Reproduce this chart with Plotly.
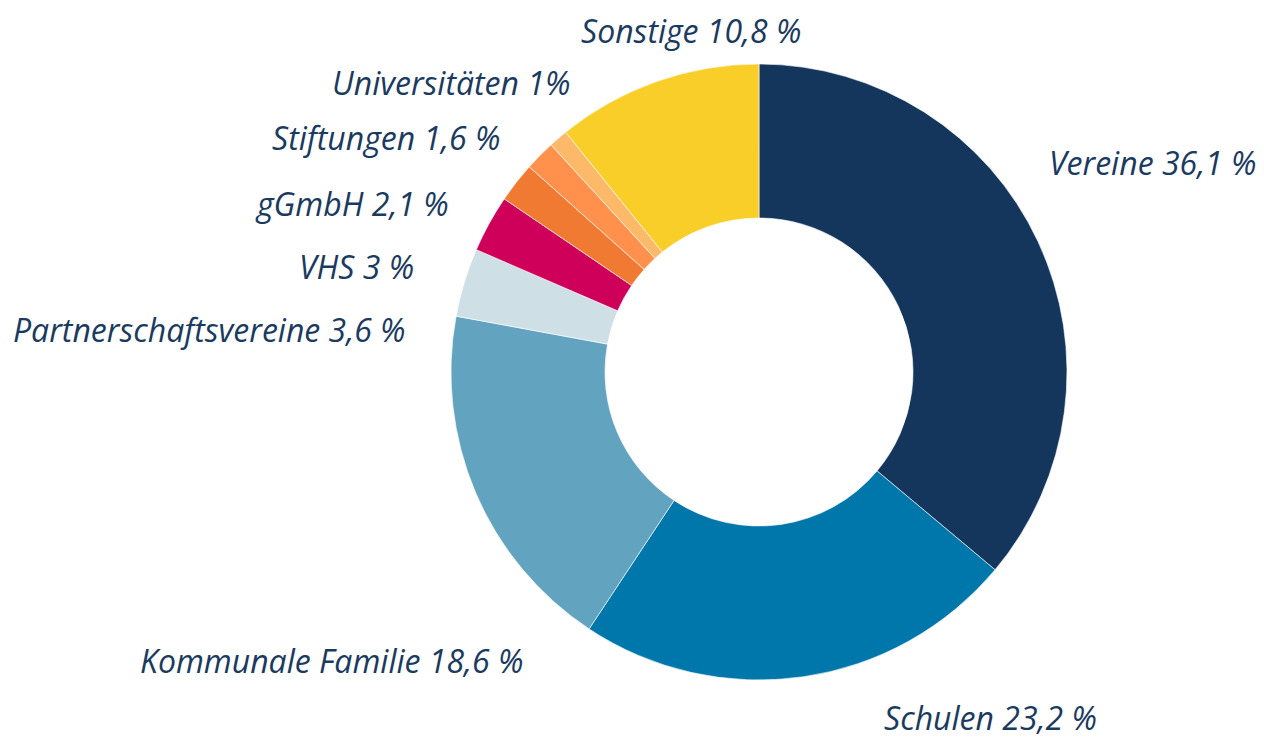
import plotly.graph_objects as go

categories = ["Vereine", "Schulen", "Kommunale Familie", "Partnerschaftsvereine",
              "VHS", "gGmbH", "Stiftungen", "Universitäten", "Sonstige"]
values = [36.1, 23.2, 18.6, 3.6, 3.0, 2.1, 1.6, 1.0, 10.8]
label_texts = ["Vereine 36,1 %", "Schulen 23,2 %", "Kommunale Familie 18,6 %",
               "Partnerschaftsvereine 3,6 %", "VHS 3 %", "gGmbH 2,1 %",
               "Stiftungen 1,6 %", "Universitäten 1%", "Sonstige 10,8 %"]

colors = ["#15365C", "#0077AA", "#62A3C0", "#CFDFE6", "#CE005A",
          "#F07A31", "#FF914D", "#FDB96A", "#F9CE29"]

OFF = 8  # page body margin
FW, FH = 1264 - OFF, 740 - OFF  # figure size inside the page
# label anchor points in page pixels (x, y, xanchor)
label_pos = [(1047, 162, "left"), (882, 717, "left"), (525, 660, "right"),
             (408, 330, "right"), (416, 266, "right"), (451, 203, "right"),
             (502, 137, "right"), (572, 82, "right"), (691, 31, "center")]

cx, cy, r = 759 - OFF, 372 - OFF, 308

fig = go.Figure(go.Pie(
    labels=categories, values=values, sort=False, direction="clockwise",
    rotation=0, hole=0.5, textinfo="none", hoverinfo="label+percent",
    marker=dict(colors=colors, line=dict(color="white", width=0.6)),
    domain=dict(x=[(cx - r) / FW, (cx + r) / FW],
                y=[(FH - cy - r) / FH, (FH - cy + r) / FH]),
    showlegend=False,
))

for txt, (px, py, anc) in zip(label_texts, label_pos):
    fig.add_annotation(text=txt, x=(px - OFF) / FW, y=1 - (py - OFF) / FH,
                       xref="paper", yref="paper",
                       xanchor=anc, yanchor="middle", showarrow=False,
                       font=dict(family="Open Sans", size=32, color="#1A3A5F",
                                 style="italic"))

fig.update_layout(width=FW, height=FH, margin=dict(l=0, r=0, t=0, b=0),
                  paper_bgcolor="white", plot_bgcolor="white")
fig.write_html("out.html")
